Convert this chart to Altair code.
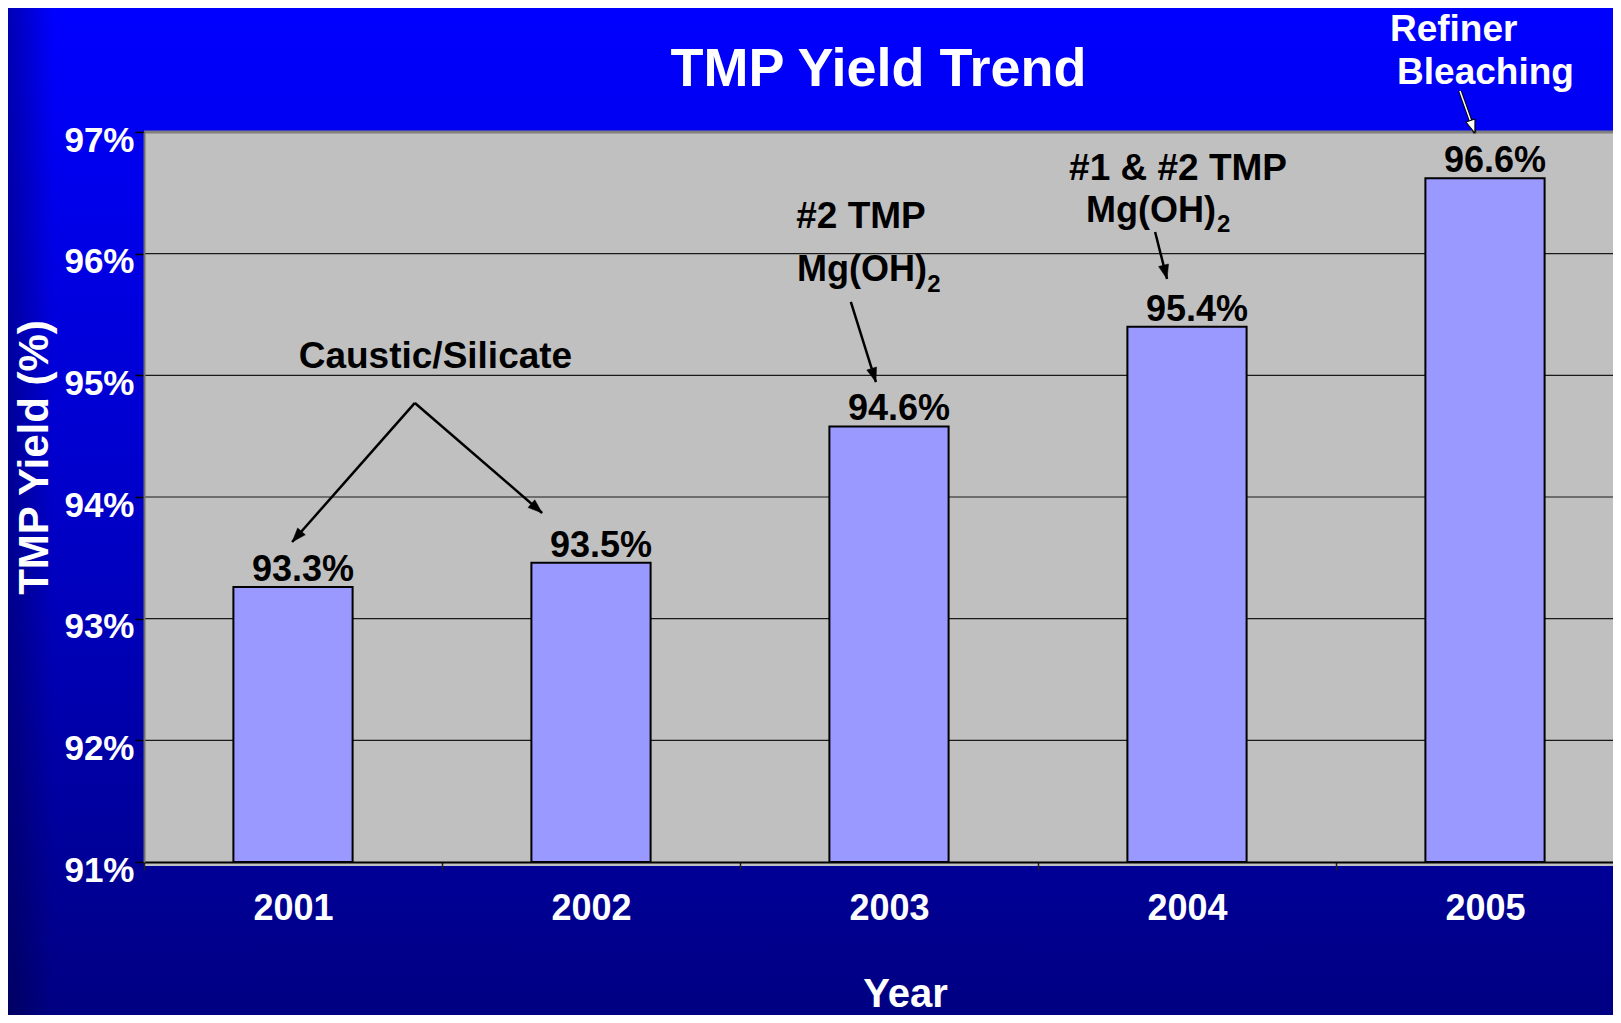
import altair as alt
import pandas as pd
import numpy as np

# ---------------- data ----------------
years = [2001, 2002, 2003, 2004, 2005]
yields = [93.26, 93.46, 94.58, 95.40, 96.62]
value_labels = ["93.3%", "93.5%", "94.6%", "95.4%", "96.6%"]
y_ticks = [91, 92, 93, 94, 95, 96, 97]
grid_vals = [92, 93, 94, 95, 96]
top_val = [97]

# annotation anchors (data coordinates: year, percent)
center_text = ["Caustic/Silicate", "#2 TMP", "#1 & #2 TMP"]
center_x = [2001.478, 2002.906, 2003.970]
center_y = [95.060, 96.210, 96.605]

mg_text = ["Mg(OH)", "Mg(OH)"]
mg_x = [2002.691, 2003.661]
mg_y = [95.775, 96.260]

sub_text = ["2", "2"]
sub_x = [2003.128, 2004.101]
sub_y = [95.684, 96.178]

white_text = ["Refiner", "Bleaching"]
white_x = [2004.681, 2004.705]
white_y = [97.748, 97.394]

arrow_x1 = [2001.409, 2001.409, 2002.872, 2003.893, 2004.916]
arrow_y1 = [94.773, 94.773, 95.603, 96.178, 97.337]
arrow_x2 = [2000.997, 2001.836, 2002.956, 2003.933, 2004.966]
arrow_y2 = [93.630, 93.869, 94.945, 95.792, 96.992]
arrow_white = [False, False, False, False, True]

# ---------------- layout ----------------
W, H = 1469, 730
PAD = {"left": 136, "top": 124, "right": 0, "bottom": 153}
STEP = 298.0
X0, X1 = 2000.5, 2000.5 + W / STEP
Y0, Y1 = 91, 97
PXX = STEP
PXY = H / (Y1 - Y0)
FONT = "Liberation Sans"

xs = alt.Scale(domain=[X0, X1], nice=False, zero=False)
ys = alt.Scale(domain=[Y0, Y1], nice=False, zero=False)

xaxis = alt.Axis(
    values=years, format="d", grid=False, tickOffset=-STEP / 2, labelOffset=STEP / 2,
    tickSize=8, tickColor="#202020", tickWidth=1.5,
    domainColor="#000000", domainWidth=2,
    labelFont=FONT, labelFontSize=36, labelFontWeight="bold", labelColor="white",
    labelPadding=21, labelBaseline="top", labelFlush=False, labelOverlap=False, labelBound=False,
    title="Year", titleFont=FONT, titleFontSize=40, titleFontWeight="bold", titleColor="white",
    titleX=761, titleY=144, titleBaseline="alphabetic", titleAlign="center", titleAngle=0,
    zindex=1,
)
yaxis = alt.Axis(
    values=y_ticks, grid=False, labelExpr="datum.value + '%'",
    tickSize=9, tickColor="#000000", tickWidth=1.5,
    domainColor="#707070", domainWidth=2,
    labelFont=FONT, labelFontSize=35, labelFontWeight="bold", labelColor="white",
    labelPadding=1, labelAlign="right", labelBaseline="middle", labelOffset=8,
    labelFlush=False, labelOverlap=False, labelBound=False,
    title="TMP Yield (%)", titleFont=FONT, titleFontSize=42, titleFontWeight="bold",
    titleColor="white", titleX=-97, titleY=325, titleAngle=270,
    titleBaseline="alphabetic", titleAlign="center",
    zindex=1,
)


def X(f):
    return alt.X(f, type="quantitative", scale=xs, axis=xaxis, title="Year")


def Y(f):
    return alt.Y(f, type="quantitative", scale=ys, axis=yaxis, title="TMP Yield (%)")


one = pd.DataFrame({"k": [0]})

# background gradient (whole chart)
bg = alt.Chart(one).mark_rect(
    fill=alt.Gradient(
        gradient="linear", x1=0, y1=0, x2=0, y2=1,
        stops=[alt.GradientStop(color="#0000FF", offset=0),
               alt.GradientStop(color="#0000C8", offset=0.5),
               alt.GradientStop(color="#000082", offset=1)],
    )
).encode(
    x=alt.value(-PAD["left"]), x2=alt.value(W + PAD["right"]),
    y=alt.value(-PAD["top"]), y2=alt.value(H + PAD["bottom"]),
)
edge = alt.Chart(one).mark_rect(
    fill=alt.Gradient(
        gradient="linear", x1=0, y1=0, x2=1, y2=0,
        stops=[alt.GradientStop(color="rgba(0,0,40,0.35)", offset=0),
               alt.GradientStop(color="rgba(0,0,40,0)", offset=1)],
    )
).encode(
    x=alt.value(-PAD["left"]), x2=alt.value(-PAD["left"] + 45),
    y=alt.value(-PAD["top"]), y2=alt.value(H + PAD["bottom"]),
)

# plot area
plotbg = alt.Chart(one).mark_rect(fill="#C0C0C0").encode(
    x=alt.value(0), x2=alt.value(W), y=alt.value(0), y2=alt.value(H + 4)
)

grid = alt.Chart(pd.DataFrame({"v": grid_vals})).mark_rule(
    color="#1a1a1a", strokeWidth=1.2
).encode(y=Y("v"))
topline = alt.Chart(pd.DataFrame({"v": top_val})).mark_rule(
    color="#808080", strokeWidth=3
).encode(y=Y("v"))

df = pd.DataFrame({"year": years, "value": yields, "label": value_labels})
bars = alt.Chart(df).transform_calculate(
    xa="datum.year - 0.2", xb="datum.year + 0.2", base="91"
).mark_bar(fill="#9999FF", stroke="#000000", strokeWidth=2).encode(
    x=X("xa"), x2=alt.X2("xb:Q"), y=Y("value"), y2=alt.Y2("base:Q")
)
bar_text = alt.Chart(df).mark_text(
    font=FONT, fontSize=36, fontWeight="bold", color="#000000",
    align="center", baseline="alphabetic", dx=10, dy=-6,
).encode(x=X("year"), y=Y("value"), text="label:N")

# annotation texts
ann_c = alt.Chart(pd.DataFrame({"x": center_x, "y": center_y, "t": center_text})).mark_text(
    font=FONT, fontSize=37, fontWeight="bold", color="#000000", align="center", baseline="alphabetic"
).encode(x=X("x"), y=Y("y"), text="t:N")
ann_mg = alt.Chart(pd.DataFrame({"x": mg_x, "y": mg_y, "t": mg_text})).mark_text(
    font=FONT, fontSize=36, fontWeight="bold", color="#000000", align="left", baseline="alphabetic"
).encode(x=X("x"), y=Y("y"), text="t:N")
ann_sub = alt.Chart(pd.DataFrame({"x": sub_x, "y": sub_y, "t": sub_text})).mark_text(
    font=FONT, fontSize=24, fontWeight="bold", color="#000000", align="left", baseline="alphabetic"
).encode(x=X("x"), y=Y("y"), text="t:N")
ann_w = alt.Chart(pd.DataFrame({"x": white_x, "y": white_y, "t": white_text})).mark_text(
    font=FONT, fontSize=37, fontWeight="bold", color="#FFFFFF", align="left", baseline="alphabetic"
).encode(x=X("x"), y=Y("y"), text="t:N")

title = alt.Chart(one).mark_text(
    font=FONT, fontSize=54, fontWeight="bold", color="#FFFFFF", align="center", baseline="alphabetic"
).encode(x=alt.value(W / 2), y=alt.value(-46), text=alt.value("TMP Yield Trend"))

# arrows
ax1, ay1 = np.array(arrow_x1), np.array(arrow_y1)
ax2, ay2 = np.array(arrow_x2), np.array(arrow_y2)
ang = (np.degrees(np.arctan2((ax2 - ax1) * PXX, (ay2 - ay1) * PXY)) + 360) % 360
arr = pd.DataFrame({"x1": ax1, "y1": ay1, "x2": ax2, "y2": ay2, "ang": ang, "white": arrow_white})
arr_b = arr[~arr["white"]]
arr_w = arr[arr["white"]]

HEAD = "M0,0 L0.36,1 L-0.36,1 Z"

shaft_b = alt.Chart(arr_b).mark_rule(color="#000000", strokeWidth=2.5).encode(
    x=X("x1"), y=Y("y1"), x2=alt.X2("x2:Q"), y2=alt.Y2("y2:Q")
)
head_b = alt.Chart(arr_b).mark_point(
    shape=HEAD, filled=True, fill="#000000", stroke="#000000", strokeWidth=0.5, opacity=1, size=800
).encode(x=X("x2"), y=Y("y2"), angle=alt.Angle("ang:Q", scale=None))

shaft_wo = alt.Chart(arr_w).mark_rule(color="#000000", strokeWidth=3.5).encode(
    x=X("x1"), y=Y("y1"), x2=alt.X2("x2:Q"), y2=alt.Y2("y2:Q")
)
shaft_wi = alt.Chart(arr_w).mark_rule(color="#FFFFFF", strokeWidth=1.5).encode(
    x=X("x1"), y=Y("y1"), x2=alt.X2("x2:Q"), y2=alt.Y2("y2:Q")
)
head_w = alt.Chart(arr_w).mark_point(
    shape=HEAD, filled=True, fill="#FFFFFF", stroke="#000000", strokeWidth=1, opacity=1, size=700
).encode(x=X("x2"), y=Y("y2"), angle=alt.Angle("ang:Q", scale=None))

chart = alt.layer(
    bg, edge, plotbg, grid, topline, bars, bar_text,
    ann_c, ann_mg, ann_sub, ann_w, title,
    shaft_b, head_b, shaft_wo, shaft_wi, head_w,
).properties(
    width=W, height=H,
    autosize=alt.AutoSizeParams(type="none"),
    padding=PAD,
).configure_view(strokeWidth=0, fill=None)

chart.save("out.html", embed_options={"renderer": "svg", "actions": False})
